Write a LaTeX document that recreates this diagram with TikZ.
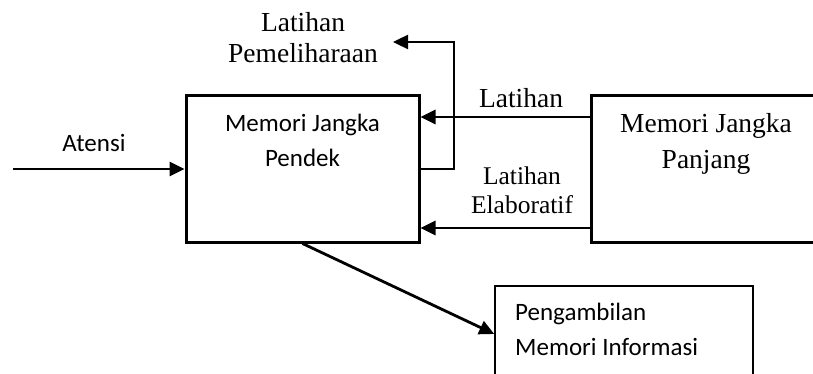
\documentclass[tikz,border=0pt]{standalone}
\usepackage{fontspec}
\setmainfont{Liberation Serif}
\newfontfamily\calibri{Carlito}
\usetikzlibrary{arrows.meta}
\begin{document}
\begin{tikzpicture}[x=1pt,y=-1pt,
  thickbox/.style={draw,line width=3pt,inner sep=0pt},
  thinbox/.style={draw,line width=1.5pt,inner sep=0pt},
  flow/.style={line width=2.8pt,-{Triangle[length=15pt,width=14pt]}},
  sans/.style={font=\calibri\fontsize{25}{30}\selectfont,anchor=base,inner sep=0pt},
  serif/.style={font=\fontsize{27.5}{33}\selectfont,anchor=base,inner sep=0pt},
  serifsm/.style={font=\fontsize{25.5}{30}\selectfont,anchor=base,inner sep=0pt}]
\clip (0,0) rectangle (813,374);

% boxes
\node[thickbox,minimum width=233pt,minimum height=146pt] (stm) at (302.5,169) {};
\node[thickbox,minimum width=300pt,minimum height=146pt] (ltm) at (741,169) {};
\node[thinbox,minimum width=258pt,minimum height=134pt] (pmi) at (624,353) {};

% box texts
\node[sans] (stm1) at (302.5,132) {Memori Jangka};
\node[sans] (stm2) at (302.5,167) {Pendek};
\node[serif] (ltm1) at (706,133) {Memori Jangka};
\node[serif] (ltm2) at (706,168) {Panjang};
\node[sans,anchor=base west] (pmi1) at (515,320) {Pengambilan};
\node[sans,anchor=base west] (pmi2) at (515,355) {Memori Informasi};

% labels
\node[sans] (atensi) at (94,152) {Atensi};
\node[serif] (lat) at (521,108) {Latihan};
\node[serifsm] (elab1) at (522,185) {Latihan};
\node[serifsm] (elab2) at (522,213) {Elaboratif};
\node[serif] (pem1) at (303,32) {Latihan};
\node[serif] (pem2) at (303,63) {Pemeliharaan};

% connectors
\coordinate (in) at (13,169);
\draw[flow] (in) -- (stm.west);
\draw[flow] (ltm.west |- {(0,117)}) -- (stm.east |- {(0,117)});
\draw[flow] (ltm.west |- {(0,228)}) -- (stm.east |- {(0,228)});
\draw[flow] (stm.south) -- (pmi.west |- {(0,334)});

% maintenance rehearsal loop
\coordinate (loopout) at (393,42);
\draw[line width=1.5pt] (stm.east |- {(0,169)}) -- (454,169) -- (454,42);
\draw[line width=2.4pt,-{Triangle[length=15pt,width=14pt]}] (454.75,42) -- (loopout);
\end{tikzpicture}
\end{document}
